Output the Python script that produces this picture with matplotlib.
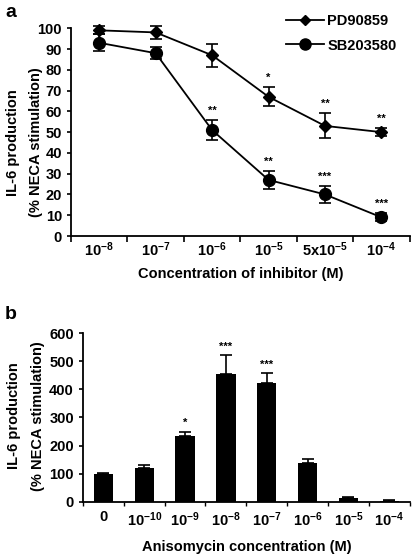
import matplotlib.pyplot as plt
from matplotlib.lines import Line2D
import numpy as np

plt.rcParams['font.family'] = ['Liberation Sans', 'DejaVu Sans']
plt.rcParams['font.weight'] = 'bold'
plt.rcParams['mathtext.fontset'] = 'custom'
plt.rcParams['mathtext.bf'] = 'Liberation Sans:bold'
plt.rcParams['mathtext.rm'] = 'Liberation Sans:bold'
plt.rcParams['mathtext.default'] = 'bf'

# panel a data
conc_a = ['10$^{-8}$', '10$^{-7}$', '10$^{-6}$', '10$^{-5}$', '5x10$^{-5}$', '10$^{-4}$']
pd_mean = [99, 98, 87, 67, 53, 50]
pd_err = [2, 3, 5.5, 4.5, 6, 2]
pd_stars = ['', '', '', '*', '**', '**']
sb_mean = [93, 88, 51, 27, 20, 9]
sb_err = [4, 3, 5, 4.5, 4, 2]
sb_stars = ['', '', '**', '**', '***', '***']

# panel b data
conc_b = ['0', '10$^{-10}$', '10$^{-9}$', '10$^{-8}$', '10$^{-7}$', '10$^{-6}$', '10$^{-5}$', '10$^{-4}$']
aniso_mean = [100, 120, 233, 455, 422, 140, 15, 5]
aniso_err = [3, 12, 17, 67, 35, 13, 3, 2]
aniso_stars = ['', '', '*', '***', '***', '', '', '']

fs = 10.5
ylab = 'IL-6 production\n(% NECA stimulation)'

fig = plt.figure(figsize=(4.14, 5.54), dpi=100)

# ---------------- panel a ----------------
ax1 = fig.add_axes([0.1715, 0.574, 0.818, 0.375])
x = np.arange(len(conc_a))
ax1.errorbar(x, pd_mean, yerr=pd_err, color='black', marker='D', markersize=6,
             lw=1.3, capsize=4, elinewidth=1.2, capthick=1.2, clip_on=False)
ax1.errorbar(x, sb_mean, yerr=sb_err, color='black', marker='o', markersize=8.5,
             lw=1.3, capsize=4, elinewidth=1.2, capthick=1.2, clip_on=False)
for i in range(len(x)):
    if pd_stars[i]:
        ax1.text(x[i], pd_mean[i] + pd_err[i] + 2, pd_stars[i], ha='center', va='bottom', fontsize=8)
    if sb_stars[i]:
        ax1.text(x[i], sb_mean[i] + sb_err[i] + 2, sb_stars[i], ha='center', va='bottom', fontsize=8)

ax1.set_xlim(-0.5, len(x) - 0.5)
ax1.set_ylim(0, 100)
ax1.set_yticks(np.arange(0, 101, 10))
ax1.set_xticks(x)
ax1.set_xticklabels(conc_a, fontsize=fs)
ax1.set_xticks(np.arange(-0.5, len(x), 1), minor=True)
ax1.tick_params(axis='x', which='major', length=0, pad=3)
ax1.tick_params(axis='x', which='minor', length=4, width=1.2, direction='out')
ax1.tick_params(axis='y', length=3, width=1.2, labelsize=fs)
for s in ['top', 'right']:
    ax1.spines[s].set_visible(False)
for s in ['left', 'bottom']:
    ax1.spines[s].set_linewidth(1.3)
ax1.set_xlabel('Concentration of inhibitor (M)', fontsize=fs, fontweight='bold', labelpad=6)
ax1.set_ylabel(ylab, fontsize=fs, fontweight='bold', linespacing=1.85)
ax1.yaxis.set_label_coords(-0.082, 0.45)
handles = [Line2D([], [], color='black', marker='D', markersize=5, lw=1.3),
           Line2D([], [], color='black', marker='o', markersize=8, lw=1.3)]
ax1.legend(handles, ['PD90859', 'SB203580'], loc='upper right', bbox_to_anchor=(1.0, 1.13),
           frameon=False, fontsize=fs, handlelength=2.6, labelspacing=0.7, handletextpad=0.2)
fig.text(0.012, 0.977, 'a', fontsize=14, fontweight='bold', va='center')

# ---------------- panel b ----------------
ax2 = fig.add_axes([0.2005, 0.0939, 0.789, 0.305])
xb = np.arange(len(conc_b))
ax2.bar(xb, aniso_mean, width=0.47, color='black')
ax2.errorbar(xb, aniso_mean, yerr=[np.zeros(len(xb)), aniso_err], fmt='none', ecolor='black',
             capsize=4, elinewidth=1.2, capthick=1.2)
for i in range(len(xb)):
    if aniso_stars[i]:
        ax2.text(xb[i], aniso_mean[i] + aniso_err[i] + 12, aniso_stars[i], ha='center', va='bottom', fontsize=8)
ax2.set_xlim(-0.5, len(xb) - 0.5)
ax2.set_ylim(0, 600)
ax2.set_yticks(np.arange(0, 601, 100))
ax2.set_xticks(xb)
ax2.set_xticklabels(conc_b, fontsize=fs)
ax2.set_xticks(np.arange(-0.5, len(xb), 1), minor=True)
ax2.tick_params(axis='x', which='major', length=0, pad=6)
ax2.tick_params(axis='x', which='minor', length=3, width=1.0, direction='out')
ax2.tick_params(axis='y', length=3, width=1.2, labelsize=fs)
for s in ['top', 'right']:
    ax2.spines[s].set_visible(False)
for s in ['left', 'bottom']:
    ax2.spines[s].set_linewidth(1.3)
ax2.set_xlabel('Anisomycin concentration (M)', fontsize=fs, fontweight='bold', labelpad=8)
ax2.set_ylabel(ylab, fontsize=fs, fontweight='bold', linespacing=1.85)
ax2.yaxis.set_label_coords(-0.117, 0.51)
fig.text(0.012, 0.432, 'b', fontsize=14, fontweight='bold', va='center')

plt.savefig('out.png', dpi=100)
